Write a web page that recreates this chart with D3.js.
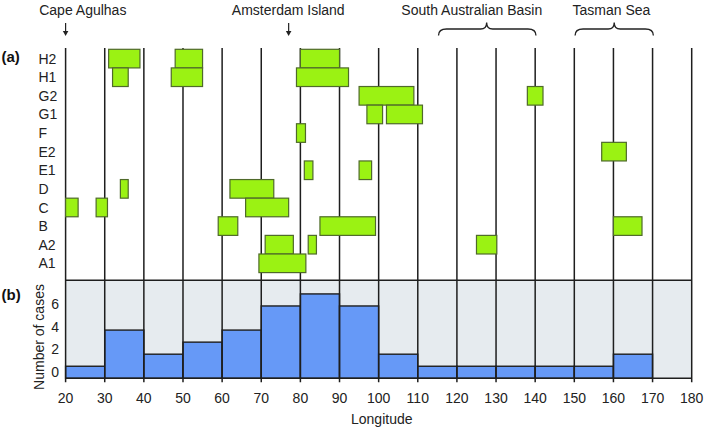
<!DOCTYPE html>
<html>
<head>
<meta charset="utf-8">
<script src="https://cdn.jsdelivr.net/npm/d3@7"></script>
<style>
  html, body { margin: 0; padding: 0; background: #fff; }
  svg { display: block; font-family: "Liberation Sans", Arial, sans-serif; }
</style>
</head>
<body>
<svg id="chart" width="709" height="429"></svg>
<script>
// ---- Data ----
const rows = ["H2", "H1", "G2", "G1", "F", "E2", "E1", "D", "C", "B", "A2", "A1"];
// occurrence boxes: [row, startLon, endLon]
const boxRow   = ["H2","H2","H2","H1","H1","H1","G2","G2","G1","G1","F","E2","E1","E1","D","D","C","C","C","B","B","B","A2","A2","A2","A1"];
const boxStart = [31, 48, 80, 32, 47, 79, 95, 138, 97, 102, 79, 157, 81, 95, 34, 62, 20, 27.8, 66, 59, 85, 160, 71, 82, 125, 69.4];
const boxEnd   = [39, 55, 90, 36, 55, 92.3, 109, 142, 101, 111.2, 81.3, 163.3, 83.2, 98.2, 36, 73.2, 23.2, 30.7, 77, 64, 99.2, 167.3, 78.2, 84.1, 130.2, 81.4];
// histogram: number of cases per 10-degree bin
const binStart = [20, 30, 40, 50, 60, 70, 80, 90, 100, 110, 120, 130, 140, 150, 160, 170];
const binCount = [1, 4, 2, 3, 4, 6, 7, 6, 2, 1, 1, 1, 1, 1, 2, 0];
const xTicks = [20, 30, 40, 50, 60, 70, 80, 90, 100, 110, 120, 130, 140, 150, 160, 170, 180];
const yTicks = [0, 2, 4, 6];
// annotations
const arrowLabels = ["Cape Agulhas", "Amsterdam Island"];
const arrowLon    = [20, 77];
const arrowTextLon = [24.4, 76.9];
const braceLabels = ["South Australian Basin", "Tasman Sea"];
const braceFrom   = [115.3, 150.2];
const braceTo     = [140.2, 170.2];
const braceMid    = [127.6, 160.2];
const braceTextLon = [123.8, 159.5];

// ---- Scales ----
const svg = d3.select("#chart");
const x = d3.scaleLinear().domain([20, 180]).range([65.6, 691.7]);
const yRow = d3.scaleBand().domain(rows).range([49.3, 272.6]).padding(0);
const yCount = d3.scaleLinear().domain([0, 8.13]).range([378.3, 280.3]);
const yLabel = d3.scaleLinear().domain([0, 6]).range([371.7, 304]); // label placement as in the original

const lineCol = "#1e1e1e";
const fontSize = 14;

// ---- Panel (b) background ----
svg.append("rect")
  .attr("x", x(20)).attr("y", yCount(8.13))
  .attr("width", x(180) - x(20)).attr("height", yCount(0) - yCount(8.13))
  .attr("fill", "#e6ebef");

// histogram bars
svg.append("g").selectAll("rect").data(binStart.map((s, i) => ({s, c: binCount[i]})).filter(d => d.c > 0))
  .join("rect")
  .attr("x", d => x(d.s)).attr("width", d => x(d.s + 10) - x(d.s))
  .attr("y", d => yCount(d.c)).attr("height", d => yCount(0) - yCount(d.c))
  .attr("fill", "#6699f7").attr("stroke", lineCol).attr("stroke-width", 1.4);

// vertical grid lines across both panels
svg.append("g").selectAll("line").data(xTicks).join("line")
  .attr("x1", d => x(d)).attr("x2", d => x(d))
  .attr("y1", 48).attr("y2", yCount(0) + 4)
  .attr("stroke", lineCol).attr("stroke-width", 1.5);

// panel (b) top and bottom lines
svg.append("line").attr("x1", x(20)).attr("x2", x(180))
  .attr("y1", yCount(8.13)).attr("y2", yCount(8.13))
  .attr("stroke", lineCol).attr("stroke-width", 1.5);
svg.append("line").attr("x1", x(20)).attr("x2", x(180))
  .attr("y1", yCount(0)).attr("y2", yCount(0))
  .attr("stroke", lineCol).attr("stroke-width", 1.5);

// ---- Panel (a) boxes ----
svg.append("g").selectAll("rect").data(boxRow.map((r, i) => ({r, a: boxStart[i], b: boxEnd[i]})))
  .join("rect")
  .attr("x", d => x(d.a)).attr("width", d => x(d.b) - x(d.a))
  .attr("y", d => yRow(d.r)).attr("height", yRow.bandwidth())
  .attr("fill", "#9bf213").attr("stroke", "#4f6a2a").attr("stroke-width", 1.2);

// row labels
svg.append("g").selectAll("text").data(rows).join("text")
  .attr("x", 38.5).attr("y", d => yRow(d) + yRow.bandwidth() / 2)
  .attr("dy", "0.36em").attr("font-size", fontSize).attr("fill", "#222")
  .text(d => d);

// panel letters
svg.append("text").attr("x", 1.5).attr("y", yRow("H2") + yRow.bandwidth() / 2 - 2).attr("dy", "0.36em")
  .attr("font-size", 15).attr("font-weight", "bold").attr("fill", "#111").text("(a)");
svg.append("text").attr("x", 1.5).attr("y", 295).attr("dy", "0.36em")
  .attr("font-size", 15).attr("font-weight", "bold").attr("fill", "#111").text("(b)");

// ---- Axes text ----
svg.append("g").selectAll("text").data(xTicks).join("text")
  .attr("x", d => x(d)).attr("y", 398).attr("dy", "0.36em")
  .attr("text-anchor", "middle").attr("font-size", fontSize).attr("fill", "#222")
  .text(d => d);
svg.append("text").attr("x", x(100.8)).attr("y", 419).attr("dy", "0.36em")
  .attr("text-anchor", "middle").attr("font-size", fontSize).attr("fill", "#222").text("Longitude");

svg.append("g").selectAll("text").data(yTicks).join("text")
  .attr("x", 59).attr("y", d => yLabel(d)).attr("dy", "0.36em")
  .attr("text-anchor", "end").attr("font-size", fontSize).attr("fill", "#222")
  .text(d => d);
svg.append("text").attr("transform", "translate(38.5,337) rotate(-90)")
  .attr("dy", "0.36em").attr("text-anchor", "middle").attr("font-size", fontSize).attr("fill", "#222")
  .text("Number of cases");

// ---- Top annotations ----
arrowLabels.forEach((t, i) => {
  svg.append("text").attr("x", x(arrowTextLon[i])).attr("y", 15)
    .attr("text-anchor", "middle").attr("font-size", fontSize).attr("fill", "#222").text(t);
  const ax = x(arrowLon[i]);
  svg.append("line").attr("x1", ax).attr("x2", ax).attr("y1", 23).attr("y2", 33)
    .attr("stroke", "#222").attr("stroke-width", 1.2);
  svg.append("path").attr("d", `M${ax - 2.8},31 L${ax + 2.8},31 L${ax},36 Z`).attr("fill", "#222");
});

braceLabels.forEach((t, i) => {
  svg.append("text").attr("x", x(braceTextLon[i])).attr("y", 15)
    .attr("text-anchor", "middle").attr("font-size", fontSize).attr("fill", "#222").text(t);
  const x0 = x(braceFrom[i]), x1 = x(braceTo[i]), xm = x(braceMid[i]);
  const yb = 35.5, yh = 29, yt = 22.5;
  const d = `M${x0},${yb} Q${x0},${yh} ${x0 + 8},${yh} L${xm - 6},${yh} Q${xm},${yh} ${xm},${yt}` +
            ` Q${xm},${yh} ${xm + 6},${yh} L${x1 - 8},${yh} Q${x1},${yh} ${x1},${yb}`;
  svg.append("path").attr("d", d).attr("fill", "none").attr("stroke", "#222").attr("stroke-width", 1.3);
});
</script>
</body>
</html>
